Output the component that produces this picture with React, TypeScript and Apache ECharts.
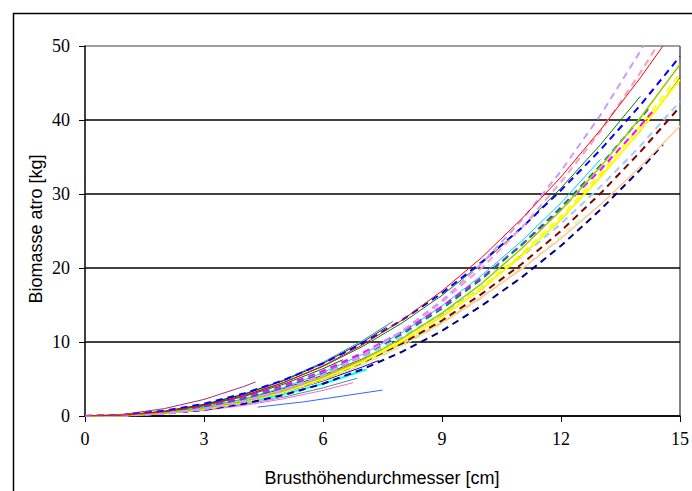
import React, { useEffect, useRef } from "react";
import * as echarts from "echarts";

// ---- axis ticks ----
const xTicks = [0, 3, 6, 9, 12, 15];
const yTicks = [0, 10, 20, 30, 40, 50];

// ---- long curves (x = 0,1,2,...) ----
const xInt = [0, 1, 2, 3, 4, 5, 6, 7, 8, 9, 10, 11, 12, 13, 14, 15];
const redY = [0, 0.12, 0.57, 1.43, 2.72, 4.51, 6.78, 9.62, 12.97, 16.9, 21.4, 26.6, 32.3, 38.7, 45.7];
const redEnd = [14.57, 50];
const lavenderY = [0, 0.05, 0.31, 0.9, 1.9, 3.39, 5.45, 8.15, 11.5, 15.6, 20.6, 26.4, 33.1, 40.7, 49.3];
const lavenderEnd = [14.07, 50];
const pinkY = [0, 0.06, 0.36, 0.99, 2.03, 3.54, 5.58, 8.2, 11.5, 15.4, 20.0, 25.4, 31.6, 38.5, 46.4];
const pinkEnd = [14.42, 50];
const blueDashY = [0, 0.16, 0.71, 1.65, 3.03, 4.83, 7.1, 9.82, 12.98, 16.6, 20.8, 25.4, 30.5, 36.0, 42.0, 48.6];
const yellowGreenY = [0, 0.07, 0.38, 1.0, 2.0, 3.4, 5.27, 7.63, 10.5, 13.9, 17.9, 22.6, 27.8, 33.7, 40.3, 47.5];
const greenY = [0, 0.13, 0.6, 1.46, 2.74, 4.49, 6.7, 9.4, 12.6, 16.3, 20.6, 25.4, 30.8, 36.7, 43.2];
const maroonDashY = [0, 0.08, 0.41, 1.03, 2.0, 3.34, 5.08, 7.24, 9.83, 12.9, 16.5, 20.5, 25.0, 30.1, 35.7, 41.8];
const lightBlueDashY = [0, 0.11, 0.5, 1.23, 2.32, 3.8, 5.67, 7.95, 10.7, 13.8, 17.4, 21.5, 26.0, 31.0, 36.5, 42.5];
const peachY = [0, 0.1, 0.47, 1.14, 2.14, 3.5, 5.22, 7.33, 9.83, 12.7, 16.1, 19.8, 24.0, 28.6, 33.7, 39.2];
const navyDashY = [0, 0.06, 0.31, 0.83, 1.65, 2.82, 4.36, 6.32, 8.7, 11.5, 14.9, 18.7, 23.0, 27.9, 33.3];
const navyDashEnd = [14.57, 36.7];
const tealDashY = [0, 0.09, 0.46, 1.16, 2.26, 3.76, 5.73, 8.16, 11.1, 14.5, 18.5, 23.1, 28.2, 33.9, 40.2];
const tealDashEnd = [14.2, 41.5];
const magentaDashY = [0, 0.12, 0.54, 1.32, 2.49, 4.07, 6.08, 8.53, 11.4, 14.8, 18.7, 23.1, 27.9, 33.3, 39.2];
const magentaDashEnd = [14.3, 41.1];
const yellowY = [0, 0.07, 0.36, 0.96, 1.91, 3.26, 5.05, 7.31, 10.1, 13.4, 17.2, 21.6, 26.6, 32.3, 38.6, 45.5];
const yellowDashY = [0, 0.07, 0.37, 0.98, 1.95, 3.3, 5.1, 7.4, 10.2, 13.5, 17.4, 21.9, 27.0, 32.8, 39.2, 46.2];
const maroonY = [0, 0.07, 0.35, 0.97, 1.9, 3.3, 5.0, 7.35, 10.0, 13.5, 17.1, 21.7, 26.5, 32.4, 38.5, 45.7];
const cyanY = [0, 0.1, 0.47, 1.19, 2.31, 3.85, 5.86, 8.35, 11.3, 14.9, 19.0, 23.6, 28.8, 34.7];
const lightGreenDashY = [0, 0.08, 0.39, 1.0, 1.94, 3.24, 4.94, 7.03, 9.54, 12.5, 16.0, 19.9, 24.3];
const lightGreenDashEnd = [12.5, 26.7];
const goldY = [0, 0.07, 0.36, 0.94, 1.86, 3.13, 4.81, 6.91, 9.46, 12.5, 16.0, 20.0];
const lightCyanY = [0, 0.1, 0.46, 1.12, 2.1, 3.45, 5.15, 7.23, 9.7, 12.6, 15.9];

// ---- short curves ----
const purpleShortY = [0, 0.25, 1.0, 2.24, 3.98];
const purpleShortEnd = [4.3, 4.6];
const seaGreenY = [0, 0.14, 0.65, 1.58, 2.97, 4.85, 7.25, 10.2];
const seaGreenEnd = [7.77, 12.8];
const darkBlueY = [0, 0.14, 0.63, 1.55, 2.91, 4.76, 7.1, 9.98];
const darkBlueEnd = [7.6, 12.0];
const darkGreenY = [0, 0.12, 0.57, 1.39, 2.62, 4.28, 6.39];
const darkGreenEnd = [6.5, 7.6];
const tealShortY = [0, 0.07, 0.34, 0.83, 1.56, 2.54, 3.8];
const tealShortEnd = [6.86, 5.1];
const pinkShortY = [0, 0.07, 0.31, 0.75, 1.42, 2.32, 3.46];
const pinkShortEnd = [6.76, 4.5];
const cyanShortY = [0, 0.08, 0.39, 0.95, 1.78, 2.92, 4.35, 6.11];
const cyanShortEnd = [7.1, 6.3];
const blueShortY = [0, 0.09, 0.42, 1.03, 1.94, 3.17, 4.73, 6.64];
const blueShortEnd = [7.4, 7.5];
const purpleY = [0, 0.11, 0.49, 1.2, 2.26, 3.69, 5.51, 7.74];
const purpleEnd = [7.5, 9.0];
const limeY = [0, 0.1, 0.46, 1.13, 2.13, 3.48];
const limeEnd = [5.5, 4.3];
const orangeY = [0, 0.1, 0.45, 1.09, 2.05, 3.35, 5.0];
const lavenderShortY = [0, 0.08, 0.35, 0.85, 1.59, 2.6];
const grayY = [0, 0.09, 0.43, 1.06, 1.99, 3.26, 4.87];
const grayEnd = [6.5, 5.8];
const blueLowX = [4.35, 5, 5.5, 6, 6.5, 7, 7.5];
const blueLowY = [1.2, 1.6, 1.9, 2.3, 2.7, 3.1, 3.5];

function pts(ys: number[], end?: number[]) {
  const out: number[][] = ys.map((y, i) => [xInt[i], y]);
  if (end) out.push(end);
  return out;
}

type Def = { data: number[][]; color: string; dashed?: boolean; width?: number };

const defs: Def[] = [
  { data: pts(purpleShortY, purpleShortEnd), color: "#993366" },
  { data: pts(seaGreenY, seaGreenEnd), color: "#339966" },
  { data: pts(darkBlueY, darkBlueEnd), color: "#003366" },
  { data: pts(darkGreenY, darkGreenEnd), color: "#006600" },
  { data: pts(purpleY, purpleEnd), color: "#800080" },
  { data: pts(blueShortY, blueShortEnd), color: "#0000ff" },
  { data: pts(grayY, grayEnd), color: "#969696" },
  { data: pts(orangeY), color: "#ff9900" },
  { data: pts(limeY, limeEnd), color: "#00ff00" },
  { data: pts(cyanShortY, cyanShortEnd), color: "#00ffff", width: 2 },
  { data: pts(tealShortY, tealShortEnd), color: "#339999" },
  { data: pts(pinkShortY, pinkShortEnd), color: "#ff66cc" },
  { data: pts(lavenderShortY), color: "#cc99ff" },
  { data: blueLowX.map((x, i) => [x, blueLowY[i]]), color: "#3366ff" },
  { data: pts(lightCyanY), color: "#99ccff" },
  { data: pts(goldY), color: "#ffcc00" },
  { data: pts(lightGreenDashY, lightGreenDashEnd), color: "#ccffcc", dashed: true },
  { data: pts(navyDashY, navyDashEnd), color: "#000080", dashed: true },
  { data: pts(peachY), color: "#ffcc99", width: 1.5 },
  { data: pts(maroonDashY), color: "#800000", dashed: true },
  { data: pts(lightBlueDashY), color: "#99ccff", dashed: true },
  { data: pts(yellowDashY), color: "#ffff00", dashed: true },
  { data: pts(maroonY), color: "#800000" },
  { data: pts(yellowY), color: "#ffff00", width: 2 },
  { data: pts(cyanY), color: "#00ccff" },
  { data: pts(magentaDashY, magentaDashEnd), color: "#ff00ff", dashed: true },
  { data: pts(tealDashY, tealDashEnd), color: "#008080", dashed: true },
  { data: pts(yellowGreenY), color: "#99cc00", width: 1.5 },
  { data: pts(greenY), color: "#008000" },
  { data: pts(blueDashY), color: "#0000ff", dashed: true },
  { data: pts(pinkY, pinkEnd), color: "#ff99cc", dashed: true },
  { data: pts(lavenderY, lavenderEnd), color: "#cc99ff", dashed: true },
  { data: pts(redY, redEnd), color: "#ff0000" },
];

export default function App() {
  const ref = useRef<HTMLDivElement>(null);
  useEffect(() => {
    const chart = echarts.init(ref.current!, null, { renderer: "svg" });
    chart.setOption({
      animation: false,
      backgroundColor: "#ffffff",
      grid: { left: 85, right: 12, top: 46, bottom: 75, show: false },
      xAxis: {
        type: "value",
        min: xTicks[0],
        max: xTicks[xTicks.length - 1],
        interval: 3,
        axisLine: { show: true, lineStyle: { color: "#000", width: 1.5 } },
        axisTick: { show: true, length: 6, lineStyle: { color: "#000", width: 1 } },
        axisLabel: { color: "#000", fontFamily: "Liberation Serif", fontSize: 18, margin: 14 },
        splitLine: { show: false },
      },
      yAxis: {
        type: "value",
        min: yTicks[0],
        max: yTicks[yTicks.length - 1],
        interval: 10,
        axisLine: { show: true, lineStyle: { color: "#000", width: 1.5 } },
        axisTick: { show: true, length: 6, lineStyle: { color: "#000", width: 1 } },
        axisLabel: { color: "#000", fontFamily: "Liberation Serif", fontSize: 18, margin: 15 },
        splitLine: {
          show: true,
          lineStyle: { color: ["#000", "#000", "#000", "#000", "#000", "#808080"], width: 1.5 },
        },
      },
      graphic: [
        {
          type: "rect",
          shape: { x: 13.5, y: 13.5, width: 720, height: 520 },
          style: { fill: "none", stroke: "#000", lineWidth: 1.5 },
          silent: true,
          z: 100,
        },
        {
          type: "line",
          shape: { x1: 680, y1: 46, x2: 680, y2: 416 },
          style: { stroke: "#808080", lineWidth: 2 },
          z: 0,
        },
        {
          type: "text",
          x: 382,
          y: 478,
          style: {
            text: "Brusthöhendurchmesser [cm]",
            font: '18px "Liberation Sans"',
            fill: "#000",
            textAlign: "center",
            textVerticalAlign: "middle",
          },
        },
        {
          type: "text",
          x: 36,
          y: 229,
          rotation: Math.PI / 2,
          style: {
            text: "Biomasse atro [kg]",
            font: '18px "Liberation Sans"',
            fill: "#000",
            textAlign: "center",
            textVerticalAlign: "middle",
          },
        },
      ],
      series: defs.map((d) => ({
        type: "line",
        data: d.data,
        symbol: "none",
        clip: true,
        lineStyle: {
          color: d.color,
          width: d.width ?? (d.dashed ? 2 : 1),
          type: d.dashed ? [7, 5] : "solid",
        },
      })),
    });
    return () => chart.dispose();
  }, []);
  return <div ref={ref} style={{ width: 692, height: 491, position: "absolute", left: 0, top: 0 }} />;
}
